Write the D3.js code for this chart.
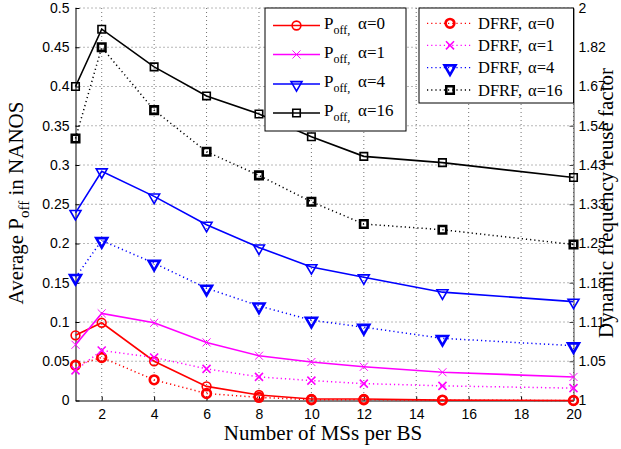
<!DOCTYPE html>
<html><head><meta charset="utf-8">
<script src="https://cdn.jsdelivr.net/npm/d3@7"></script>
<style>body{margin:0;background:#fff} svg{display:block}</style>
</head><body><svg id="c" width="621" height="449"></svg>
<script>
// ---------- data ----------
const msPerBS = [1, 2, 4, 6, 8, 10, 12, 15, 20];

const poffA0  = [0.083, 0.099, 0.050, 0.018, 0.007, 0.002, 0.002, 0.0005, 0.0];
const poffA1  = [0.071, 0.111, 0.099, 0.074, 0.057, 0.049, 0.043, 0.036, 0.030];
const poffA4  = [0.239, 0.292, 0.260, 0.224, 0.195, 0.170, 0.157, 0.138, 0.126];
const poffA16 = [0.400, 0.473, 0.425, 0.388, 0.365, 0.336, 0.311, 0.303, 0.284];

// dynamic frequency reuse factor (right axis)
const dfrfA0  = [1.047, 1.058, 1.027, 1.009, 1.004, 1.001, 1.001, 1.0005, 1.000];
const dfrfA1  = [1.040, 1.068, 1.058, 1.042, 1.031, 1.026, 1.022, 1.019, 1.016];
const dfrfA4  = [1.186, 1.256, 1.212, 1.167, 1.137, 1.114, 1.103, 1.086, 1.075];
const dfrfA16 = [1.501, 1.818, 1.587, 1.464, 1.402, 1.339, 1.290, 1.278, 1.248];

const alphas = ["0", "1", "4", "16"];
const colors = ["#ff0000", "#ff00ff", "#0000ff", "#000000"];
const markers = ["circle", "x", "tri", "square"];

const xTickValues = [2, 4, 6, 8, 10, 12, 14, 16, 18, 20];
const leftTickValues = [0, 0.05, 0.1, 0.15, 0.2, 0.25, 0.3, 0.35, 0.4, 0.45, 0.5];
const leftTickLabels = ["0", "0.05", "0.1", "0.15", "0.2", "0.25", "0.3", "0.35", "0.4", "0.45", "0.5"];
const rightTickValues = [1, 1.0526, 1.1111, 1.1765, 1.25, 1.3333, 1.4286, 1.5385, 1.6667, 1.8182, 2];
const rightTickLabels = ["1", "1.05", "1.11", "1.18", "1.25", "1.33", "1.43", "1.54", "1.67", "1.82", "2"];

const xTitle = "Number of MSs per BS";
const rightTitle = "Dynamic frequency reuse factor";

// ---------- layout ----------
const L = 75.5, R = 573.5, T = 8, B = 400.5;
const svg = d3.select("#c");

const x = d3.scaleLinear().domain([1, 20]).range([L, R]);
const yL = d3.scaleLinear().domain([0, 0.5]).range([B, T]);
const yR = d3.scalePow().exponent(-1).domain([1, 2]).range([B, T]);

const poff = [poffA0, poffA1, poffA4, poffA16];
const dfrf = [dfrfA0, dfrfA1, dfrfA4, dfrfA16];

// grid
const grid = svg.append("g").attr("stroke", "#333").attr("stroke-width", 0.7)
  .attr("stroke-dasharray", "1,3");
xTickValues.forEach(v => grid.append("line").attr("x1", x(v)).attr("x2", x(v)).attr("y1", T).attr("y2", B));
leftTickValues.slice(1).forEach(v => grid.append("line").attr("x1", L).attr("x2", R).attr("y1", yL(v)).attr("y2", yL(v)));

// axes
const sans = "'Liberation Sans', Arial, sans-serif";
const serif = "'Liberation Serif', 'Times New Roman', serif";

const xAxis = svg.append("g").attr("transform", `translate(0,${B})`)
  .call(d3.axisBottom(x).tickValues(xTickValues).tickSizeInner(-4).tickSizeOuter(0).tickPadding(9));
const leftAxis = svg.append("g").attr("transform", `translate(${L},0)`)
  .call(d3.axisLeft(yL).tickValues(leftTickValues).tickFormat((d, i) => leftTickLabels[i])
    .tickSizeInner(-4).tickSizeOuter(0).tickPadding(6));
const rightAxis = svg.append("g").attr("transform", `translate(${R},0)`)
  .call(d3.axisRight(yR).tickValues(rightTickValues).tickFormat((d, i) => rightTickLabels[i])
    .tickSizeInner(-4).tickSizeOuter(0).tickPadding(5));
[xAxis, leftAxis, rightAxis].forEach(g => {
  g.selectAll("text").attr("font-family", sans).attr("font-size", 14).attr("fill", "#000");
  g.selectAll("line").attr("stroke", "#000");
  g.select(".domain").attr("stroke", "#000").attr("stroke-width", 1);
});
rightAxis.select(".domain").attr("stroke", "#444");
rightAxis.selectAll("line").attr("stroke", "#444");
xAxis.selectAll("text").attr("dy", "0.71em");

// axis titles
svg.append("text").attr("x", 323).attr("y", 440).attr("text-anchor", "middle")
  .attr("font-family", serif).attr("font-size", 21).text(xTitle);

const lt = svg.append("text").attr("transform", "translate(23,203) rotate(-90)")
  .attr("text-anchor", "middle").attr("font-family", serif).attr("font-size", 21);
lt.append("tspan").text("Average P");
lt.append("tspan").attr("dy", 6).attr("font-size", 15).text("off");
lt.append("tspan").attr("dy", -6).text(" in NANOS");

svg.append("text").attr("transform", "translate(613,203) rotate(-90)")
  .attr("text-anchor", "middle").attr("font-family", serif).attr("font-size", 21).text(rightTitle);

// markers
function drawMarker(g, type, cx, cy, color, sw) {
  if (type === "circle") {
    g.append("path").attr("d", d3.symbol(d3.symbolCircle, 60)()).attr("transform", `translate(${cx},${cy})`)
      .attr("fill", "none").attr("stroke", color).attr("stroke-width", sw);
  } else if (type === "square") {
    g.append("path").attr("d", d3.symbol(d3.symbolSquare, 56)()).attr("transform", `translate(${cx},${cy})`)
      .attr("fill", "none").attr("stroke", color).attr("stroke-width", sw);
  } else if (type === "tri") {
    g.append("path").attr("d", d3.symbol(d3.symbolTriangle, 52)()).attr("transform", `translate(${cx},${cy + 0.8}) rotate(180)`)
      .attr("fill", "none").attr("stroke", color).attr("stroke-width", sw);
  } else {
    g.append("path").attr("d", d3.symbol(d3.symbolTimes, 44)()).attr("transform", `translate(${cx},${cy})`)
      .attr("fill", color).attr("stroke", color).attr("stroke-width", sw * 0.6);
  }
}

// P_off series (left axis)
const plotG = svg.append("g");
poff.forEach((vals, k) => {
  const line = d3.line().x((d, i) => x(msPerBS[i])).y(d => yL(d));
  plotG.append("path").datum(vals).attr("d", line).attr("fill", "none")
    .attr("stroke", colors[k]).attr("stroke-width", 1.6);
  vals.forEach((v, i) => drawMarker(plotG, markers[k], x(msPerBS[i]), yL(v), colors[k], 1.6));
});
// DFRF series (right axis)
dfrf.forEach((vals, k) => {
  const line = d3.line().x((d, i) => x(msPerBS[i])).y(d => yR(d));
  plotG.append("path").datum(vals).attr("d", line).attr("fill", "none")
    .attr("stroke", colors[k]).attr("stroke-width", 1.5).attr("stroke-dasharray", "1.2,3");
  vals.forEach((v, i) => drawMarker(plotG, markers[k], x(msPerBS[i]), yR(v), colors[k], 2.6));
});

// legends
function legendBox(x0, y0, w, h) {
  svg.append("rect").attr("x", x0).attr("y", y0).attr("width", w).attr("height", h)
    .attr("fill", "#fff").attr("stroke", "#000").attr("stroke-width", 1);
}
legendBox(265, 8, 141, 123);
const rows1 = [25.5, 54.5, 84, 113];
alphas.forEach((a, k) => {
  const yy = rows1[k];
  svg.append("line").attr("x1", 273).attr("x2", 320).attr("y1", yy).attr("y2", yy)
    .attr("stroke", colors[k]).attr("stroke-width", 1.6);
  drawMarker(svg, markers[k], 296.5, yy, colors[k], 1.6);
  const t = svg.append("text").attr("x", 324).attr("y", yy + 3).attr("font-family", serif).attr("font-size", 17);
  t.append("tspan").text("P");
  t.append("tspan").attr("dy", 5).attr("font-size", 12).text("off,");
  t.append("tspan").attr("x", 358).attr("dy", -5).text("\u03b1=" + a);
});

legendBox(419, 8, 154.5, 95);
const rows2 = [23.3, 45.3, 67.7, 90];
alphas.forEach((a, k) => {
  const yy = rows2[k];
  svg.append("line").attr("x1", 427).attr("x2", 471).attr("y1", yy).attr("y2", yy)
    .attr("stroke", colors[k]).attr("stroke-width", 1.3).attr("stroke-dasharray", "1.2,3");
  drawMarker(svg, markers[k], 450, yy, colors[k], 2.6);
  const t = svg.append("text").attr("x", 478).attr("y", yy + 5.5).attr("font-family", serif).attr("font-size", 16.5);
  t.append("tspan").text("DFRF,");
  t.append("tspan").attr("x", 528).text("\u03b1=" + a);
});
</script></body></html>
